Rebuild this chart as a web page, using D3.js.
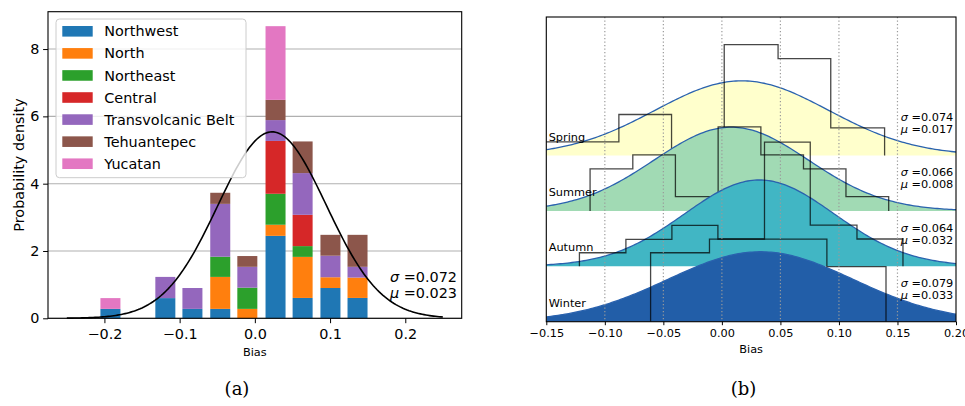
<!DOCTYPE html>
<html>
<head>
<meta charset="utf-8">
<script src="https://cdn.jsdelivr.net/npm/d3@7"></script>
<style>
  body { margin: 0; background: #fff; }
  svg { display: block; font-family: "DejaVu Sans", sans-serif; }
</style>
</head>
<body>
<svg id="fig" width="965" height="406"></svg>
<script>
// ---------- (a) stacked bias histogram by region ----------
const regions = ["Northwest", "North", "Northeast", "Central", "Transvolcanic Belt", "Tehuantepec", "Yucatan"];
const regionColors = ["#1f77b4", "#ff7f0e", "#2ca02c", "#d62728", "#9467bd", "#8c564b", "#e377c2"];
const binCenters = [-0.192, -0.119, -0.083, -0.046, -0.010, 0.0275, 0.0635, 0.1005, 0.1365];
const northwest   = [0.28, 0.60, 0.28, 0.28, 0.00, 2.45, 0.605, 0.90, 0.605];
const north       = [0.00, 0.00, 0.00, 0.95, 0.28, 0.33, 1.22, 0.32, 0.605];
const northeast   = [0.00, 0.00, 0.00, 0.60, 0.63, 0.92, 0.32, 0.00, 0.00];
const central     = [0.00, 0.00, 0.00, 0.00, 0.00, 1.57, 0.93, 0.00, 0.00];
const transvolc   = [0.00, 0.63, 0.62, 1.57, 0.62, 0.62, 1.24, 0.64, 0.32];
const tehuantepec = [0.00, 0.00, 0.00, 0.33, 0.32, 0.60, 0.94, 0.62, 0.95];
const yucatan     = [0.32, 0.00, 0.00, 0.00, 0.00, 2.19, 0.00, 0.00, 0.00];
const allSigma = 0.072;
const allMu = 0.023;
const xTicksA = [-0.2, -0.1, 0.0, 0.1, 0.2];
const yTicksA = [0, 2, 4, 6, 8];

// ---------- (b) seasonal ridgeline ----------
const seasons = ["Spring", "Summer", "Autumn", "Winter"];
const seasonColors = ["#ffffcc", "#a1dab4", "#41b6c4", "#225ea8"];
const seasonSigma = [0.074, 0.066, 0.064, 0.079];
const seasonMu = [0.017, 0.008, 0.032, 0.033];
const seasonOffset = [12, 8, 4, 0];
const springEdges = [-0.179, -0.134, -0.088, -0.043, 0.002, 0.048, 0.093, 0.139];
const springDensity = [0.98, 0.98, 2.96, 0.00, 8.01, 7.00, 1.99];
const summerEdges = [-0.1126, -0.0761, -0.0397, -0.0032, 0.0333, 0.0697, 0.106, 0.1425];
const summerDensity = [3.03, 4.04, 1.03, 6.06, 4.04, 3.03, 1.03];
const autumnEdges = [-0.1217, -0.082, -0.0427, -0.0034, 0.0364, 0.0755, 0.1154, 0.1547];
const autumnDensity = [0.98, 1.95, 2.96, 1.97, 8.97, 2.98, 1.97];
const winterEdges = [-0.0609, -0.0106, 0.0396, 0.0897, 0.1402];
const winterDensity = [4.98, 5.96, 5.96, 3.97];
const xTicksB = [-0.15, -0.10, -0.05, 0.00, 0.05, 0.10, 0.15, 0.20];
const guideLinesB = [-0.10, -0.05, 0.00, 0.05, 0.10, 0.15];

const svg = d3.select("#fig");
const pdf = (x, mu, s) => Math.exp(-0.5 * ((x - mu) / s) ** 2) / (s * Math.sqrt(2 * Math.PI));
const bigFont = 14.4, smallFont = 11.3;

// ===== panel (a) =====
const A = { left: 48, right: 461.7, top: 11.7, bottom: 318.3 };
const xA = d3.scaleLinear().domain([-0.275, 0.275]).range([A.left, A.right]);
const yA = d3.scaleLinear().domain([0, 9.11]).range([A.bottom, A.top]);
const gA = svg.append("g");

// horizontal grid
gA.append("g").selectAll("line").data(yTicksA).join("line")
  .attr("x1", A.left).attr("x2", A.right)
  .attr("y1", d => yA(d)).attr("y2", d => yA(d))
  .attr("stroke", "#b0b0b0").attr("stroke-width", 1.1);

// stacked bars
const regionValues = [northwest, north, northeast, central, transvolc, tehuantepec, yucatan];
const rows = binCenters.map((c, i) => {
  const r = { center: c };
  regions.forEach((k, j) => { r[k] = regionValues[j][i]; });
  return r;
});
const stacked = d3.stack().keys(regions)(rows);
const barWidth = 0.0266;
gA.append("g").selectAll("g").data(stacked).join("g")
  .attr("fill", (d, i) => regionColors[i])
  .selectAll("rect").data(d => d.filter(s => s[1] - s[0] > 0)).join("rect")
  .attr("x", d => xA(d.data.center - barWidth / 2))
  .attr("width", d => xA(d.data.center + barWidth / 2) - xA(d.data.center - barWidth / 2))
  .attr("y", d => yA(d[1]))
  .attr("height", d => yA(d[0]) - yA(d[1]));

// fitted normal curve
const xsA = d3.range(-0.25, 0.25001, 0.0025);
gA.append("path")
  .datum(xsA.map(x => [x, pdf(x, allMu, allSigma)]))
  .attr("fill", "none").attr("stroke", "#000").attr("stroke-width", 1.6)
  .attr("d", d3.line().x(d => xA(d[0])).y(d => yA(d[1])));

// axes
const axA_x = gA.append("g").attr("transform", `translate(0,${A.bottom})`)
  .call(d3.axisBottom(xA).tickValues(xTicksA).tickFormat(d3.format(".1f")).tickSize(4.9).tickPadding(6));
const axA_y = gA.append("g").attr("transform", `translate(${A.left},0)`)
  .call(d3.axisLeft(yA).tickValues(yTicksA).tickFormat(d3.format("d")).tickSize(4.9).tickPadding(3.8));
[axA_x, axA_y].forEach(ax => {
  ax.select(".domain").remove();
  ax.attr("font-size", bigFont).attr("font-family", "DejaVu Sans");
  ax.selectAll("line").attr("stroke", "#000").attr("stroke-width", 1);
  ax.selectAll("text").attr("fill", "#000");
});
gA.append("rect").attr("x", A.left).attr("y", A.top)
  .attr("width", A.right - A.left).attr("height", A.bottom - A.top)
  .attr("fill", "none").attr("stroke", "#000").attr("stroke-width", 1.1);

gA.append("text").attr("x", (A.left + A.right) / 2).attr("y", 355.8)
  .attr("text-anchor", "middle").attr("font-size", smallFont).text("Bias");
gA.append("text").attr("transform", `translate(24,${(A.top + A.bottom) / 2}) rotate(-90)`)
  .attr("text-anchor", "middle").attr("font-size", bigFont).text("Probability density");

// sigma / mu annotation
const annA = gA.append("g").attr("font-size", bigFont);
annA.append("text").attr("x", 390).attr("y", 281.7)
  .call(t => { t.append("tspan").attr("font-style", "italic").text("σ"); t.append("tspan").text(" =" + allSigma.toFixed(3)); });
annA.append("text").attr("x", 390).attr("y", 298.3)
  .call(t => { t.append("tspan").attr("font-style", "italic").text("μ"); t.append("tspan").text(" =" + allMu.toFixed(3)); });

// legend
const leg = gA.append("g");
leg.append("rect").attr("x", 56).attr("y", 19).attr("width", 190).attr("height", 158.7)
  .attr("rx", 3.5).attr("fill", "#fff").attr("fill-opacity", 0.8)
  .attr("stroke", "#cccccc").attr("stroke-width", 1);
const legRow = leg.selectAll("g.item").data(regions).join("g").attr("class", "item")
  .attr("transform", (d, i) => `translate(0,${31.3 + i * 22.07})`);
legRow.append("rect").attr("x", 62.3).attr("y", -5.3).attr("width", 30.4).attr("height", 10.6)
  .attr("fill", (d, i) => regionColors[i]);
legRow.append("text").attr("x", 104.3).attr("y", 5.1).attr("font-size", bigFont).text(d => d);

// ===== panel (b) =====
const B = { left: 546.3, right: 956, top: 17, bottom: 321.7 };
const xB = d3.scaleLinear().domain([-0.15, 0.20]).range([B.left, B.right]);
const yB = d3.scaleLinear().domain([0, 22]).range([B.bottom, B.top]);
const gB = svg.append("g");
svg.append("defs").append("clipPath").attr("id", "clipB").append("rect")
  .attr("x", B.left).attr("y", B.top).attr("width", B.right - B.left).attr("height", B.bottom - B.top);
const plotB = gB.append("g").attr("clip-path", "url(#clipB)");

const seasonEdges = [springEdges, summerEdges, autumnEdges, winterEdges];
const seasonDensity = [springDensity, summerDensity, autumnDensity, winterDensity];
const xsB = d3.range(-0.15, 0.20001, 0.002);
const lineB = d3.line().x(d => xB(d[0])).y(d => yB(d[1]));

seasons.forEach((s, i) => {
  const off = seasonOffset[i];
  const curve = xsB.map(x => [x, off + pdf(x, seasonMu[i], seasonSigma[i])]);
  plotB.append("path").datum(curve)
    .attr("fill", seasonColors[i])
    .attr("d", d3.area().x(d => xB(d[0])).y0(yB(off)).y1(d => yB(d[1])));
  plotB.append("path").datum(curve)
    .attr("fill", "none").attr("stroke", "#2a62ae").attr("stroke-width", 1.3)
    .attr("d", lineB);
  // step outline of the seasonal histogram
  const e = seasonEdges[i], v = seasonDensity[i];
  const pts = [[e[0], off]];
  v.forEach((h, k) => { pts.push([e[k], off + h], [e[k + 1], off + h]); });
  pts.push([e[e.length - 1], off]);
  plotB.append("path").datum(pts)
    .attr("fill", "none").attr("stroke", "#000").attr("stroke-opacity", 0.72)
    .attr("stroke-width", 1.3).attr("d", lineB);
});

// dotted guide lines
plotB.append("g").selectAll("line").data(guideLinesB).join("line")
  .attr("x1", d => xB(d)).attr("x2", d => xB(d))
  .attr("y1", B.top).attr("y2", B.bottom)
  .attr("stroke", "#9a9a9a").attr("stroke-width", 1.2).attr("stroke-dasharray", "1.3,2.2");

// season names and fit parameters
const labB = gB.append("g").attr("font-size", smallFont);
seasons.forEach((s, i) => {
  const base = yB(seasonOffset[i]);
  labB.append("text").attr("x", 548.7).attr("y", base - 15).text(s);
  labB.append("text").attr("x", 900.7).attr("y", base - 34.5)
    .call(t => { t.append("tspan").attr("font-style", "italic").text("σ"); t.append("tspan").text(" =" + seasonSigma[i].toFixed(3)); });
  labB.append("text").attr("x", 900.7).attr("y", base - 22.8)
    .call(t => { t.append("tspan").attr("font-style", "italic").text("μ"); t.append("tspan").text(" =" + seasonMu[i].toFixed(3)); });
});

const axB_x = gB.append("g").attr("transform", `translate(0,${B.bottom})`)
  .call(d3.axisBottom(xB).tickValues(xTicksB).tickFormat(d3.format(".2f")).tickSize(3.5).tickPadding(4.1));
axB_x.select(".domain").remove();
axB_x.attr("font-size", smallFont).attr("font-family", "DejaVu Sans");
axB_x.selectAll("line").attr("stroke", "#000");
axB_x.selectAll("text").attr("fill", "#000");
gB.append("rect").attr("x", B.left).attr("y", B.top)
  .attr("width", B.right - B.left).attr("height", B.bottom - B.top)
  .attr("fill", "none").attr("stroke", "#000").attr("stroke-width", 1.1);
gB.append("text").attr("x", (B.left + B.right) / 2).attr("y", 352.5)
  .attr("text-anchor", "middle").attr("font-size", smallFont).text("Bias");

// panel captions
svg.append("g").attr("font-family", "DejaVu Serif").attr("font-size", 18).attr("text-anchor", "middle")
  .selectAll("text").data([["(a)", 237], ["(b)", 743.5]]).join("text")
  .attr("x", d => d[1]).attr("y", 395).text(d => d[0]);
</script>
</body>
</html>
